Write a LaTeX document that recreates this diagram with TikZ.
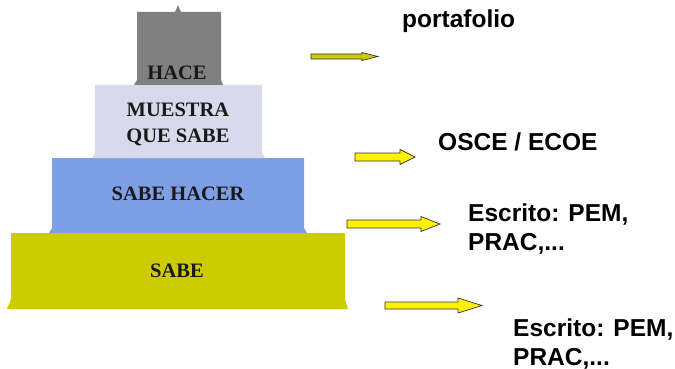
\documentclass[tikz,border=0pt]{standalone}
\usepackage{fontspec}
\setmainfont{Liberation Serif}
\newfontfamily\lsans{Liberation Sans}
\begin{document}
\begin{tikzpicture}[x=1pt,y=-1pt,
  tierlabel/.style={font=\bfseries\fontsize{20.5}{25}\selectfont, inner sep=0pt, anchor=base, align=center, text=black!90},
  sidelabel/.style={font=\lsans\bfseries\fontsize{24.5}{29}\selectfont, inner sep=0pt, anchor=base west, align=left},
  yarrow/.style={draw=black!80, line width=0.7pt, fill=yellow},
  oarrow/.style={draw=black!80, line width=0.7pt, fill=sabec}
]
\useasboundingbox (0,0) rectangle (675,369);
\definecolor{hacec}{HTML}{808080}
\definecolor{muestrac}{HTML}{D9D9EC}
\definecolor{haccerc}{HTML}{7F9FE5}
\definecolor{sabec}{HTML}{CCCC00}
% apex
\fill[hacec] (175,12) -- (178,5) -- (181,12) -- cycle;
% tiers (bottom to top)
\fill[sabec] (11,233) -- (345,233) -- (345,299) -- (348,309) -- (7,309) -- (11,299) -- cycle;
\fill[haccerc] (52,158) -- (304,158) -- (304,228) -- (307,233) -- (49,233) -- (52,228) -- cycle;
\fill[muestrac] (95,85) -- (262,85) -- (262,153) -- (265,158) -- (92,158) -- (95,153) -- cycle;
\fill[hacec] (137,12) -- (221,12) -- (221,80) -- (223,85) -- (134,85) -- (137,80) -- cycle;
% tier labels
\node[tierlabel] (hace) at (177,80) {HACE};
\node[tierlabel] (muestra) at (178,142) {MUESTRA\\QUE SABE};
\node[tierlabel] (sabehacer) at (178,200) {SABE HACER};
\node[tierlabel] (sabe) at (177,277) {SABE};
% block arrows
\draw[oarrow] (311,54) -- (362,54) -- (362,52.5) -- (378,56.5) -- (362,60.5) -- (362,59) -- (311,59) -- cycle;
\draw[yarrow] (355,153) -- (400,153) -- (400,149.5) -- (415,157) -- (400,164.5) -- (400,161) -- (355,161) -- cycle;
\draw[yarrow] (347,220) -- (421,220) -- (421,216.5) -- (440,224) -- (421,231.5) -- (421,228) -- (347,228) -- cycle;
\draw[yarrow] (385,302) -- (458,302) -- (458,298) -- (482,305.5) -- (458,313) -- (458,309) -- (385,309) -- cycle;
% side labels
\node[sidelabel] (port) at (402,28) {portafolio};
\node[sidelabel] (osce) at (438,150) {OSCE / ECOE};
\node[sidelabel] (esc1) at (468,250) {Escrito: PEM,\\PRAC,...};
\node[sidelabel] (esc2) at (513,365) {Escrito: PEM,\\PRAC,...};
\end{tikzpicture}
\end{document}
